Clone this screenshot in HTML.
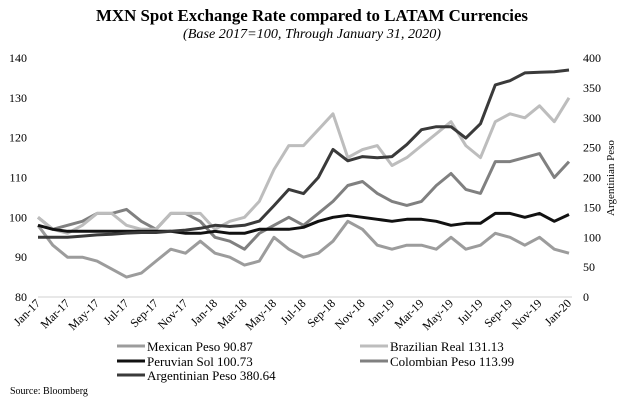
<!DOCTYPE html>
<html><head><meta charset="utf-8"><style>
body{margin:0;background:#fff;}
svg{display:block;}
svg text{font-family:"Liberation Serif",serif;}
</style></head><body>
<svg id="chart" width="624" height="401" viewBox="0 0 624 401" xmlns="http://www.w3.org/2000/svg" font-family="Liberation Serif, serif">
<text x="312" y="21" text-anchor="middle" font-size="17" font-weight="bold" textLength="432" lengthAdjust="spacingAndGlyphs">MXN Spot Exchange Rate compared to LATAM Currencies</text>
<text x="312" y="38" text-anchor="middle" font-size="14" font-style="italic" textLength="258" lengthAdjust="spacingAndGlyphs">(Base 2017=100, Through January 31, 2020)</text>
<g id="axes"></g>
<g id="series"></g>
<g id="legend"></g>
<text x="10" y="394" font-size="10">Source: Bloomberg</text>
</svg>
<script>
const months = ["Jan-17","Feb-17","Mar-17","Apr-17","May-17","Jun-17","Jul-17","Aug-17","Sep-17","Oct-17","Nov-17","Dec-17","Jan-18","Feb-18","Mar-18","Apr-18","May-18","Jun-18","Jul-18","Aug-18","Sep-18","Oct-18","Nov-18","Dec-18","Jan-19","Feb-19","Mar-19","Apr-19","May-19","Jun-19","Jul-19","Aug-19","Sep-19","Oct-19","Nov-19","Dec-19","Jan-20"];
const leftTicks = [80,90,100,110,120,130,140];
const rightTicks = [0,50,100,150,200,250,300,350,400];
const mexican = [98,93,90,90,89,87,85,86,89,92,91,94,91,90,88,89,95,92,90,91,94,99,97,93,92,93,93,92,95,92,93,96,95,93,95,92,91];
const brazil = [100,97,96,98,101,101,98,97,97,101,101,101,97,99,100,104,112,118,118,122,126,115,117,118,113,115,118,121,124,118,115,124,126,125,128,124,130];
const peru = [98,97,96.5,96.5,96.5,96.5,96.5,96.5,96.5,96.5,96,96,96.5,96,96,97,97,97,97.5,99,100,100.5,100,99.5,99,99.5,99.5,99,98,98.5,98.5,101,101,100,101,99,100.7];
const colombia = [100,97,98,99,101,101,102,99,97,101,101,99,95,94,92,96,98,100,98,101,104,108,109,106,104,103,104,108,111,107,106,114,114,115,116,110,114];
const argentina = [100,100,100,102,104,105,107,108,108,110,112,115,120,118,120,127,153,180,173,200,247,228,235,233,235,255,280,285,285,266,290,355,362,375,376,377,380];

const NS="http://www.w3.org/2000/svg";
const FF="Liberation Serif, serif";
const X0=38,X1=569,YT=58,YB=297;
const xS=i=>X0+(X1-X0)*i/(months.length-1);
const yL=v=>YB-(v-80)/60*(YB-YT);
const yR=v=>YB-v/400*(YB-YT);
function mk(tag,attrs,parent){const e=document.createElementNS(NS,tag);for(const k in attrs)e.setAttribute(k,attrs[k]);if(tag==='text')e.setAttribute('font-family',FF);parent.appendChild(e);return e;}
const axes=document.getElementById('axes');
const axisLine=mk('line',{x1:X0,x2:X1+3,y1:YB,y2:YB,stroke:'#d0d0d0','stroke-width':1},axes);


leftTicks.forEach(v=>{const t=mk('text',{x:27,y:yL(v)+4,'text-anchor':'end','font-size':12},axes);t.textContent=v;

});
rightTicks.forEach(v=>{const t=mk('text',{x:583,y:yR(v)+4,'font-size':12},axes);t.textContent=v;

});
months.forEach((m,i)=>{if(i%2)return;const x=xS(i)+3,y=304;const t=mk('text',{x:x,y:y,'text-anchor':'end','font-size':12,transform:`rotate(-45 ${x} ${y})`},axes);t.textContent=m;

});
const rt=mk('text',{x:0,y:0,'text-anchor':'middle','font-size':11,transform:'translate(614 178) rotate(-90)'},axes);rt.textContent='Argentinian Peso';



const seriesG=document.getElementById('series');
const defs=[
 {name:'mexican-peso-line',data:mexican,sc:yL,color:'#9c9c9c',w:3},
 {name:'colombian-peso-line',data:colombia,sc:yL,color:'#808080',w:3},
 {name:'brazilian-real-line',data:brazil,sc:yL,color:'#bdbdbd',w:3},
 {name:'peruvian-sol-line',data:peru,sc:yL,color:'#111',w:3},
 {name:'argentinian-peso-line',data:argentina,sc:yR,color:'#3a3a3a',w:3}];
defs.forEach(d=>{const p=mk('polyline',{points:d.data.map((v,i)=>xS(i).toFixed(1)+','+d.sc(v).toFixed(1)).join(' '),fill:'none',stroke:d.color,'stroke-width':d.w,'stroke-linejoin':'round'},seriesG);

});

const leg=document.getElementById('legend');
const items=[['Mexican Peso 90.87','#9c9c9c',117,346],['Peruvian Sol 100.73','#111',117,361],['Argentinian Peso 380.64','#3a3a3a',117,375],['Brazilian Real 131.13','#bdbdbd',360,346],['Colombian Peso 113.99','#808080',360,361]];
items.forEach(it=>{const g=mk('g',{},leg);


mk('line',{x1:it[2],x2:it[2]+28,y1:it[3],y2:it[3],stroke:it[1],'stroke-width':3},g);
const t=mk('text',{x:it[2]+30,y:it[3]+5,'font-size':13},g);t.textContent=it[0];});
</script>
</body></html>
